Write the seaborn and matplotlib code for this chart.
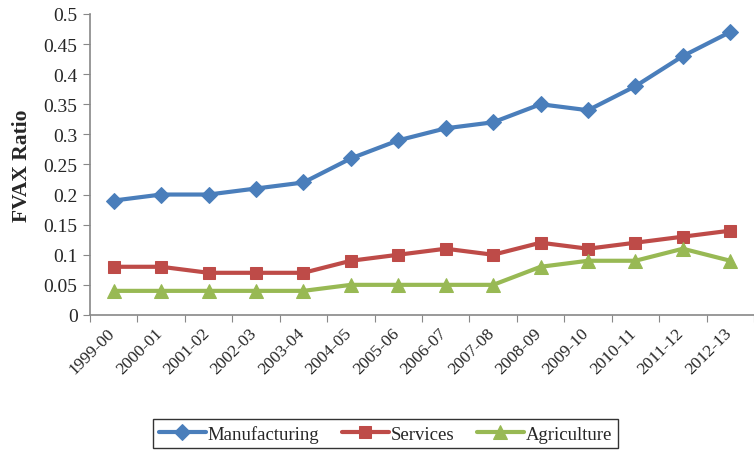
import pandas as pd
import matplotlib.pyplot as plt
import matplotlib.transforms as mtransforms
import seaborn as sns

years = ['1999-00', '2000-01', '2001-02', '2002-03', '2003-04', '2004-05', '2005-06',
         '2006-07', '2007-08', '2008-09', '2009-10', '2010-11', '2011-12', '2012-13']
manufacturing = [0.19, 0.20, 0.20, 0.21, 0.22, 0.26, 0.29, 0.31, 0.32, 0.35, 0.34, 0.38, 0.43, 0.47]
services = [0.08, 0.08, 0.07, 0.07, 0.07, 0.09, 0.10, 0.11, 0.10, 0.12, 0.11, 0.12, 0.13, 0.14]
agriculture = [0.04, 0.04, 0.04, 0.04, 0.04, 0.05, 0.05, 0.05, 0.05, 0.08, 0.09, 0.09, 0.11, 0.09]

sns.set_style('white')
plt.rcParams['font.family'] = ['Liberation Serif', 'DejaVu Serif']

# Build a long table for seaborn
data = pd.DataFrame({
    'pos': list(range(len(years))) * 3,
    'value': manufacturing + services + agriculture,
    'sector': ['Manufacturing'] * len(years) + ['Services'] * len(years) + ['Agriculture'] * len(years),
})

fig = plt.figure(figsize=(7.54, 4.52), dpi=100)
ax = fig.add_axes([0.1194, 0.301, 0.8806, 0.666])

styles = {
    'Manufacturing': ('#4A7EBB', 'D', 8),
    'Services': ('#BE4B48', 's', 9),
    'Agriculture': ('#98B954', '^', 10),
}
for sector, (color, marker, ms) in styles.items():
    sub = data[data['sector'] == sector]
    sns.lineplot(x='pos', y='value', data=sub, ax=ax, color=color, marker=marker,
                 markersize=ms, markeredgecolor=color, linewidth=3, label=sector)

ax.set_xlim(-0.5, len(years) - 0.5)
ax.set_ylim(0, 0.5)
ax.set_yticks([i * 0.05 for i in range(11)])
ax.set_yticklabels(['0', '0.05', '0.1', '0.15', '0.2', '0.25', '0.3', '0.35', '0.4', '0.45', '0.5'])

# tick marks at category boundaries, labels at centres
ax.set_xticks([i - 0.5 for i in range(len(years) + 1)])
ax.set_xticklabels([])
ax.set_xticks(list(range(len(years))), minor=True)
ax.set_xticklabels(years, minor=True, rotation=45, ha='right', rotation_mode='anchor')
ax.tick_params(axis='x', which='minor', length=0, pad=7, labelsize=12.5)
ax.tick_params(axis='x', which='major', length=5, color='#888888', direction='out', bottom=True)
ax.tick_params(axis='y', length=5, color='#888888', direction='out', left=True, labelsize=14, pad=4)

# nudge the rotated labels a little to the left
shift = mtransforms.ScaledTranslation(-7 / 100, 0, fig.dpi_scale_trans)
for lbl in ax.get_xticklabels(minor=True):
    lbl.set_transform(lbl.get_transform() + shift)

for side in ['top', 'right']:
    ax.spines[side].set_visible(False)
for side in ['left', 'bottom']:
    ax.spines[side].set_color('#888888')
    ax.spines[side].set_linewidth(1.2)

ax.set_xlabel('')
ax.set_ylabel('FVAX Ratio', fontsize=15.5, fontweight='bold', labelpad=8)

leg = ax.legend(loc='upper center', bbox_to_anchor=(0.445, -0.315), ncol=3, fontsize=13.5,
                frameon=True, fancybox=False, edgecolor='black', borderpad=0.3,
                handlelength=2.5, columnspacing=1.2, handletextpad=0.1)
leg.get_frame().set_linewidth(1.0)

plt.savefig('out.png', dpi=100)
